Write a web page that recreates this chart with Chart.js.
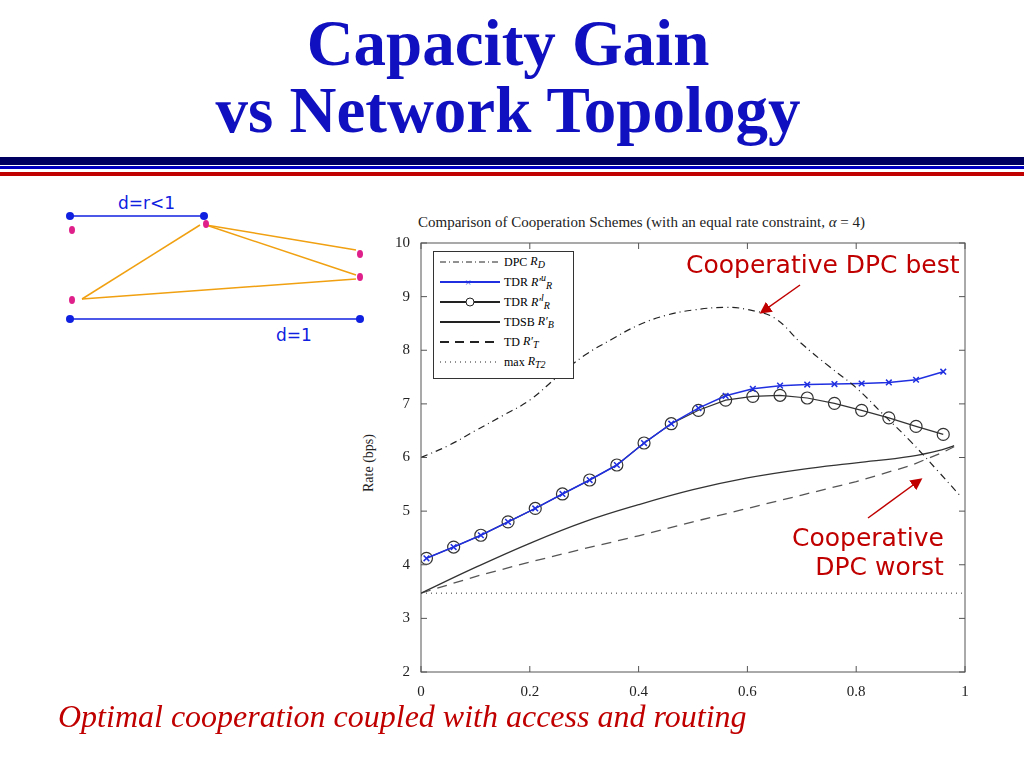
<!DOCTYPE html>
<html><head><meta charset="utf-8">
<script src="https://cdn.jsdelivr.net/npm/chart.js@4/dist/chart.umd.min.js"></script>
<style>
body{margin:0;width:1024px;height:768px;background:#fff;position:relative;overflow:hidden;font-family:"Liberation Serif",serif}
.t{position:absolute;left:-4px;width:1024px;text-align:center;color:#1010c0;font-weight:bold;font-size:65px;font-family:"Liberation Serif",serif;line-height:75px}
#cwrap{position:absolute;left:371px;top:227px;width:604px;height:475px}
.leg{position:absolute;left:433px;top:251px;width:139px;height:126px;border:1px solid #333;background:#fff;font-size:12px}
.leg div{height:20px;display:flex;align-items:center}
.leg svg{width:64px;height:10px;margin-left:4px;margin-right:2px}
.red{position:absolute;color:#c00000;font-family:Verdana,"DejaVu Sans",sans-serif;font-size:25px}
</style></head><body>
<div class="t" style="top:6px">Capacity Gain</div>
<div class="t" style="top:73px">vs Network Topology</div>
<div style="position:absolute;left:0;top:157px;width:1024px;height:8px;background:#000060"></div>
<div style="position:absolute;left:0;top:166px;width:1024px;height:3px;background:#0000c0"></div>
<div style="position:absolute;left:0;top:172px;width:1024px;height:4px;background:#c00000"></div>
<svg style="position:absolute;left:0;top:180px" width="400" height="170">
<line x1="70" y1="36" x2="204" y2="36" stroke="#1020e0" stroke-width="1.5"/>
<line x1="70" y1="139" x2="360" y2="139" stroke="#1020e0" stroke-width="1.5"/>
<g stroke="#f0a010" stroke-width="1.5" fill="#f0a010">
<line x1="82" y1="119" x2="200" y2="45"/><line x1="82" y1="119" x2="356" y2="99"/>
<line x1="206" y1="45" x2="356" y2="70"/><line x1="206" y1="45" x2="356" y2="95"/></g>
<g fill="#1020e0"><circle cx="70" cy="36" r="4"/><circle cx="204" cy="36" r="4"/><circle cx="70" cy="139" r="4"/><circle cx="360" cy="139" r="4"/></g>
<g fill="#e0208a"><ellipse cx="72" cy="50" rx="3" ry="4"/><ellipse cx="206" cy="44" rx="3" ry="4"/><ellipse cx="72" cy="120" rx="3" ry="4"/><ellipse cx="360" cy="74" rx="3" ry="4"/><ellipse cx="360" cy="97" rx="3" ry="4"/></g>
<text x="118" y="29" font-family="DejaVu Sans" font-size="17" fill="#1020e0">d=r&lt;1</text>
<text x="276" y="161" font-family="DejaVu Sans" font-size="17" fill="#1020e0">d=1</text>
</svg>
<div style="position:absolute;left:418px;top:214px;font-size:15px;color:#222">Comparison of Cooperation Schemes (with an equal rate constraint, <i>α</i> = 4)</div>
<div style="position:absolute;left:340px;top:455px;font-size:14px;color:#222;transform:rotate(-90deg)">Rate (bps)</div>
<div id="cwrap"><canvas id="c" width="604" height="475"></canvas></div>
<div class="leg">
<div><svg><line x1="2" y1="5" x2="62" y2="5" stroke="#222" stroke-dasharray="6,3,1,3"/></svg>DPC <i>&nbsp;R<sub>D</sub></i></div>
<div><svg><line x1="2" y1="5" x2="62" y2="5" stroke="#2030e0" stroke-width="2"/><text x="27" y="9" fill="#2030e0" font-size="11">×</text></svg>TDR <i>&nbsp;R′<sup>u</sup><sub>R</sub></i></div>
<div><svg><line x1="2" y1="5" x2="62" y2="5" stroke="#222" stroke-width="2"/><circle cx="32" cy="5" r="4" fill="#fff" stroke="#222"/></svg>TDR <i>&nbsp;R′<sup>l</sup><sub>R</sub></i></div>
<div><svg><line x1="2" y1="5" x2="62" y2="5" stroke="#222" stroke-width="2"/></svg>TDSB <i>&nbsp;R′<sub>B</sub></i></div>
<div><svg><line x1="2" y1="5" x2="62" y2="5" stroke="#222" stroke-width="2" stroke-dasharray="9,6"/></svg>TD <i>&nbsp;R′<sub>T</sub></i></div>
<div><svg><line x1="2" y1="5" x2="62" y2="5" stroke="#222" stroke-dasharray="1,4"/></svg>max <i>&nbsp;R<sub>T2</sub></i></div>
</div>
<div class="red" style="left:686px;top:250px">Cooperative DPC best</div>
<div class="red" style="left:792px;top:523px;text-align:right;line-height:29px">Cooperative<br>&nbsp;DPC worst</div>
<svg style="position:absolute;left:0;top:0;pointer-events:none" width="1024" height="768">
<defs><marker id="a" markerWidth="8" markerHeight="8" refX="6" refY="4" orient="auto"><path d="M0,0 L8,4 L0,8 z" fill="#c00000"/></marker></defs>
<line x1="800" y1="285" x2="762" y2="312" stroke="#c00000" stroke-width="1.5" marker-end="url(#a)"/>
<line x1="868" y1="518" x2="920" y2="480" stroke="#c00000" stroke-width="1.5" marker-end="url(#a)"/>
</svg>
<div style="position:absolute;left:58px;top:698px;font-size:32px;color:#c00000;font-style:italic;font-family:'Liberation Serif',serif">Optimal cooperation coupled with access and routing</div>
<script>
const rMark=[0.01,0.06,0.11,0.16,0.21,0.26,0.31,0.36,0.41,0.46,0.51,0.56,0.61,0.66,0.71,0.76,0.81,0.86,0.91,0.96];
const tdrUpper=[4.12,4.33,4.55,4.80,5.05,5.32,5.58,5.86,6.27,6.63,6.92,7.15,7.28,7.34,7.36,7.37,7.38,7.40,7.45,7.60];
const tdrLower=[4.12,4.33,4.55,4.80,5.05,5.32,5.58,5.86,6.27,6.63,6.88,7.07,7.14,7.16,7.11,7.01,6.88,6.74,6.58,6.43];
const rDpc=[0,0.05,0.1,0.15,0.2,0.25,0.3,0.35,0.4,0.45,0.5,0.56,0.6,0.65,0.7,0.75,0.8,0.85,0.9,0.95,0.99];
const dpc=[6.0,6.22,6.5,6.78,7.07,7.5,7.9,8.2,8.47,8.65,8.75,8.8,8.76,8.6,8.12,7.7,7.3,6.8,6.3,5.75,5.3];
const rSmooth=[0,0.1,0.2,0.3,0.4,0.5,0.6,0.7,0.8,0.9,0.96,0.98];
const tdsb=[3.47,3.95,4.4,4.8,5.12,5.4,5.62,5.78,5.9,6.02,6.15,6.22];
const td=[3.47,3.78,4.05,4.3,4.54,4.8,5.05,5.3,5.55,5.85,6.1,6.2];
const rMax=[0,1];
const maxRT2=[3.47,3.47];
const xy=(xs,ys)=>xs.map((x,i)=>({x:x,y:ys[i]}));
const box={id:'box',afterDraw(c){const a=c.chartArea,g=c.ctx;g.save();g.strokeStyle='#555';g.lineWidth=1;g.strokeRect(a.left,a.top,a.right-a.left,a.bottom-a.top);
const xs=c.scales.x,ys=c.scales.y;g.beginPath();
for(let v=0;v<=1.0001;v+=0.2){const p=xs.getPixelForValue(v);g.moveTo(p,a.bottom);g.lineTo(p,a.bottom-6);g.moveTo(p,a.top);g.lineTo(p,a.top+6);}
for(let v=2;v<=10;v++){const p=ys.getPixelForValue(v);g.moveTo(a.left,p);g.lineTo(a.left+6,p);g.moveTo(a.right,p);g.lineTo(a.right-6,p);}
g.stroke();g.restore();}};
const tf={family:'Liberation Serif',size:15};
new Chart(document.getElementById('c'),{type:'scatter',
data:{datasets:[
{data:xy(rDpc,dpc),showLine:true,borderColor:'#222',borderWidth:1.2,borderDash:[7,4,1,4],pointRadius:0,tension:0.4},
{data:xy(rMark,tdrUpper),showLine:true,borderColor:'#2030e0',borderWidth:1.5,pointStyle:'crossRot',pointRadius:4,pointBorderColor:'#2030e0',pointBorderWidth:1.5},
{data:xy(rMark,tdrLower),showLine:true,borderColor:'#333',borderWidth:1.2,pointStyle:'circle',pointRadius:6,pointBackgroundColor:'rgba(0,0,0,0)',pointBorderColor:'#333',pointBorderWidth:1.2},
{data:xy(rSmooth,tdsb),showLine:true,borderColor:'#333',borderWidth:1.3,pointRadius:0,tension:0.4},
{data:xy(rSmooth,td),showLine:true,borderColor:'#555',borderWidth:1.3,borderDash:[10,7],pointRadius:0},
{data:xy(rMax,maxRT2),showLine:true,borderColor:'#333',borderWidth:1,borderDash:[1,4],pointRadius:0}
]},
options:{responsive:false,animation:false,devicePixelRatio:1,
layout:{padding:{top:16,right:10}},
plugins:{legend:{display:false},tooltip:{enabled:false}},
scales:{
x:{type:'linear',min:0,max:1,afterFit:s=>{s.height=30},border:{display:false},grid:{display:false},ticks:{stepSize:0.2,color:'#222',font:tf,callback:v=>Math.round(v*10)/10+''}},
y:{type:'linear',min:2,max:10,afterFit:s=>{s.width=50},border:{display:false},grid:{display:false},ticks:{stepSize:1,color:'#222',font:tf}}
}},plugins:[box]});
</script>
</body></html>
